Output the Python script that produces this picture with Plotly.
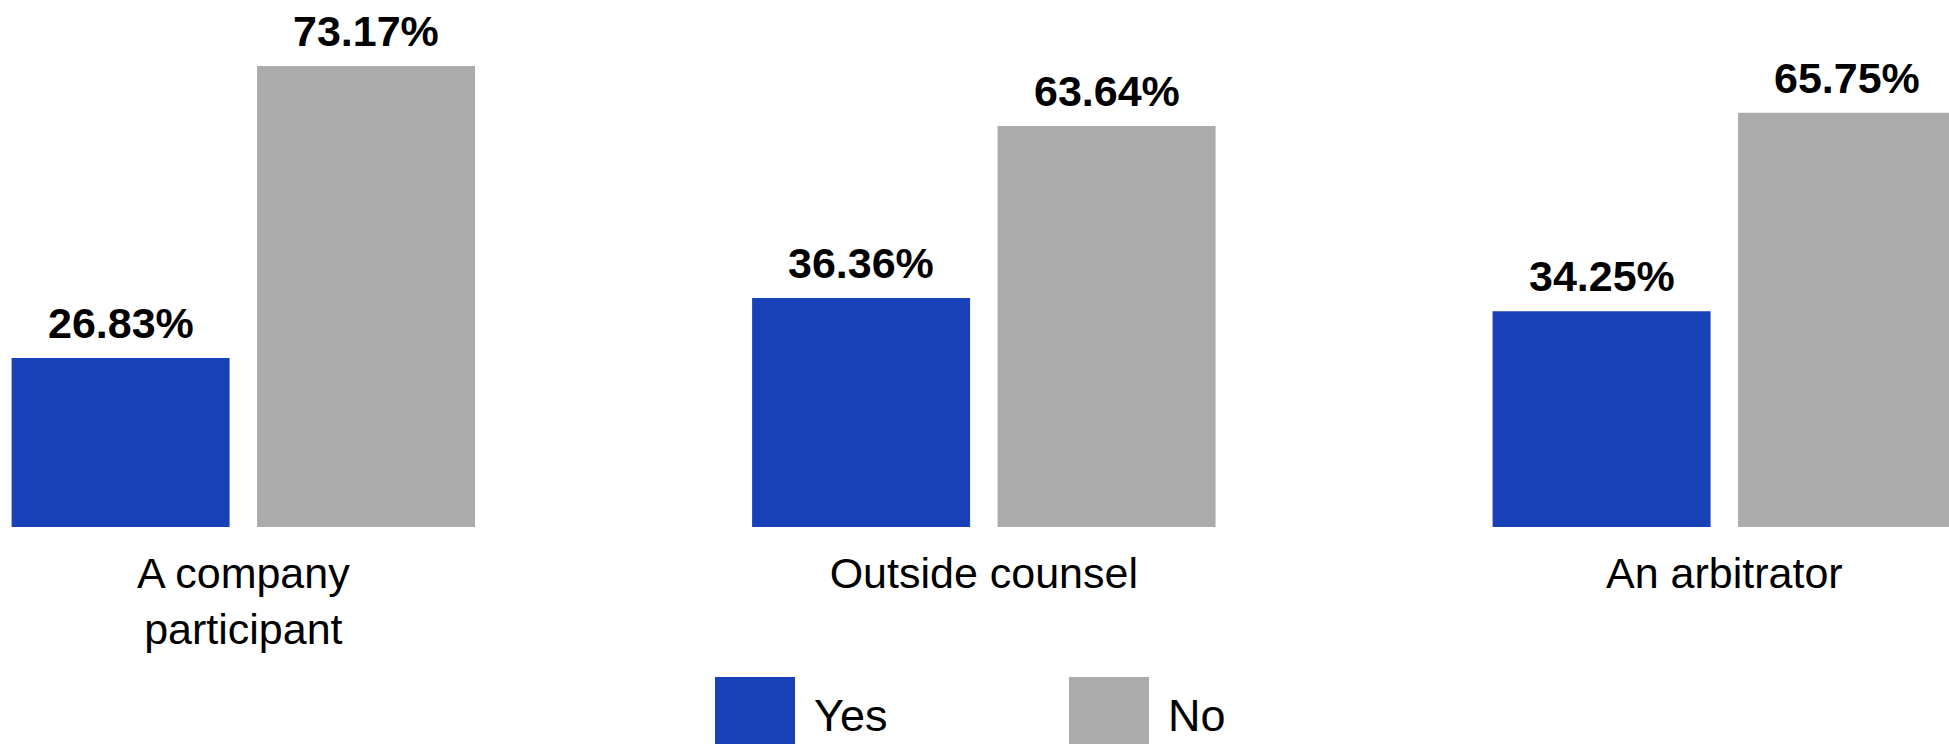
import plotly.graph_objects as go

categories = ["A company<br>participant", "Outside counsel", "An arbitrator"]
series_names = ["Yes", "No"]
yes_values = [26.83, 36.36, 34.25]
no_values = [73.17, 63.64, 65.75]
colors = {"Yes": "#1941B7", "No": "#ABABAB"}

W, H = 1949, 744
plot_h = 527
FONT = "Liberation Sans, Arial, sans-serif"

x_range = [-0.3286, 2.3034]
bargap, bargroupgap = 0.337, 0.112
cat_px = W / (x_range[1] - x_range[0])
slot_px = cat_px * (1 - bargap) / 2

fig = go.Figure()
for k, (name, vals) in enumerate(zip(series_names, [yes_values, no_values])):
    fig.add_trace(go.Bar(
        x=categories, y=vals, name=name,
        marker=dict(color=colors[name], line=dict(width=0)),
        showlegend=False, hoverinfo="x+y+name",
    ))
    shift = (k - 0.5) * slot_px
    for cat, v in zip(categories, vals):
        fig.add_annotation(x=cat, y=v, xshift=shift, yshift=9,
                           yanchor="bottom", xanchor="center",
                           text=f"{v:.2f}%", showarrow=False,
                           font=dict(family=FONT, size=43, color="black", weight="bold"))

# custom legend (large square swatches)
legend_x = [715, 1069]
for name, x0 in zip(series_names, legend_x):
    fig.add_shape(type="rect", xref="paper", yref="paper",
                  x0=x0 / W, x1=(x0 + 80) / W,
                  y0=(plot_h - 677) / plot_h, y1=(plot_h - 760) / plot_h,
                  fillcolor=colors[name], line=dict(width=0), layer="above")
    fig.add_annotation(xref="paper", yref="paper", x=(x0 + 97) / W,
                       y=(plot_h - 743) / plot_h, text=name, showarrow=False,
                       xanchor="left", yanchor="bottom",
                       font=dict(family=FONT, size=45, color="black"))

fig.update_layout(
    width=W, height=H,
    margin=dict(l=0, r=0, t=0, b=H - plot_h, pad=0),
    paper_bgcolor="white", plot_bgcolor="white",
    barmode="group", bargap=bargap, bargroupgap=bargroupgap,
    font=dict(family=FONT, size=43, color="black"),
    xaxis=dict(range=x_range, showgrid=False, zeroline=False,
               showline=False, ticks="outside", ticklen=8,
               tickcolor="rgba(0,0,0,0)",
               tickfont=dict(family=FONT, size=43, color="black")),
    yaxis=dict(range=[0, 83.65], visible=False, showgrid=False, zeroline=False),
)

fig.write_html("out.html", config={"displayModeBar": False},
               post_script="document.body.style.margin='0';document.body.style.overflow='hidden';")
